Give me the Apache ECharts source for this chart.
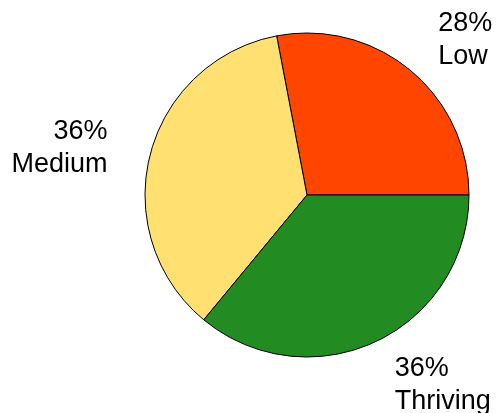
<!DOCTYPE html>
<html>
<head>
<meta charset="utf-8">
<script src="https://cdn.jsdelivr.net/npm/echarts@6/dist/echarts.min.js"></script>
<style>html,body{margin:0;padding:0;background:#fff;}#c{width:496px;height:413px;}</style>
</head>
<body>
<div id="c"></div>
<script>
const categories = ['Low', 'Medium', 'Thriving'];
const values = [28, 36, 36];
const colors = ['#FF4500', '#FFE070', '#228B22'];

const chart = echarts.init(document.getElementById('c'), null, {renderer: 'canvas'});
chart.setOption({
  animation: false,
  backgroundColor: '#ffffff',
  series: [{
    type: 'pie',
    center: [307, 195],
    radius: 162,
    startAngle: 0,
    clockwise: false,
    avoidLabelOverlap: false,
    emphasis: {disabled: true},
    itemStyle: {borderColor: '#000', borderWidth: 1},
    label: {
      show: true,
      position: 'outside',
      distanceToLabelLine: 0,
      fontFamily: 'Liberation Sans, Arial, sans-serif',
      fontSize: 27,
      lineHeight: 33,
      color: '#000',
      formatter: p => p.value + '%\n' + p.name
    },
    labelLayout: {dy: 4},
    labelLine: {show: false, length: 44, length2: 0},
    data: categories.map((c, i) => ({name: c, value: values[i], itemStyle: {color: colors[i]}}))
  }]
});
</script>
</body>
</html>
